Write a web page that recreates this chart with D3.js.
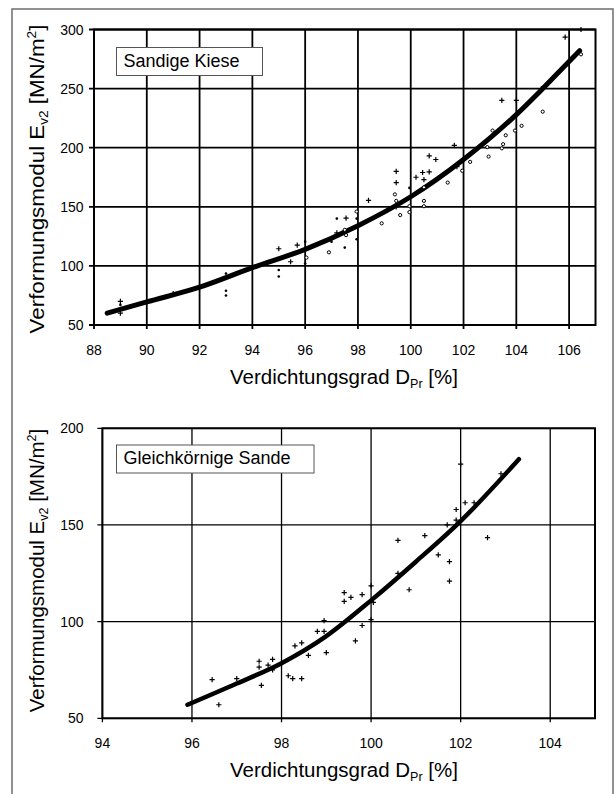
<!DOCTYPE html>
<html>
<head>
<meta charset="utf-8">
<script src="https://cdn.jsdelivr.net/npm/d3@7"></script>
<style>
  body { margin: 0; background: #fff; }
  text { font-family: Arial, "Liberation Sans", sans-serif; fill: #000; }
</style>
</head>
<body>
<svg id="chart" width="616" height="794"></svg>
<script>
// Sandige Kiese: E_v2 [MN/m2] over D_Pr [%], three kinds of markers
var kiesePlus = [[89.0,70],[89.0,60],[91.0,76.5],[95.0,114.5],[95.45,103.5],[95.7,117.5],[97.2,128],[97.55,140.5],
  [98.4,155.5],[99.45,180],[99.45,170.5],[99.45,150],[100.2,175],[100.45,179],[100.5,173],[100.7,193],[100.7,179.5],
  [100.95,190],[101.65,202],[101.75,184],[103.45,240],[104.0,240],[104.95,250],[105.85,293.5],[106.45,300]];
var kieseCircle = [[96.05,107],[96.9,111.5],[97.5,130.5],[97.55,126],[97.95,146],[98.9,136],[99.4,160.5],[99.45,155],
  [99.6,143],[99.95,150.5],[99.95,145.5],[100.5,166.5],[100.5,155],[100.5,150.5],[101.4,170.5],[101.95,180.5],
  [102.25,188],[102.9,200.5],[102.95,192.5],[103.1,214.5],[103.45,199.5],[103.5,203],[103.6,210.5],[103.95,214.5],
  [104.2,218.5],[105.0,230.5],[106.45,279]];
var kieseDot = [[89.0,67],[93.0,93.5],[93.0,79],[93.0,75],[95.0,96.5],[95.0,91],[96.0,120.5],[96.0,102],[97.0,120.5],
  [97.2,140],[97.5,115.5],[97.95,122.5],[97.95,140],[99.95,166]];
var kieseTrend = [[88.5,60],[90,69.5],[92,82],[94,98.5],[96,114],[98,134],[100,158.5],[102,190],[104,228],[105,250],[106,273],[106.4,282]];
var kieseXTicks = [88,90,92,94,96,98,100,102,104,106];
var kieseYTicks = [50,100,150,200,250,300];

// Gleichkörnige Sande
var sandePlus = [[96.45,70],[96.6,57],[97.0,70.5],[97.5,79.5],[97.5,76.5],[97.55,67],[97.7,77.5],[97.8,80.5],[97.8,75],
  [98.0,78.5],[98.15,72],[98.25,70.5],[98.45,70.5],[98.3,87.5],[98.45,89],[98.6,82.5],[98.8,95],[98.95,95],[98.95,100.5],
  [99.0,84],[99.4,115],[99.4,110.5],[99.55,112.5],[99.65,90],[99.8,114],[99.8,98],[100.0,118.5],[100.05,110],[100.0,101],
  [100.6,142],[100.6,125],[100.85,116.5],[101.2,144.5],[101.5,134.5],[101.75,131],[101.75,121],[101.7,150],[101.9,158],
  [101.9,152.5],[102.0,181.5],[102.1,161.5],[102.3,161.5],[102.6,143.5],[102.9,176.5]];
var sandeTrend = [[95.9,57],[97,68],[98,78.5],[99,92.5],[100,111],[101,131],[102,152],[103.3,184]];
var sandeXTicks = [94,96,98,100,102,104];
var sandeYTicks = [50,100,150,200];

var svg = d3.select("#chart");

// gray frame round the whole figure
svg.append("rect").attr("x", 12).attr("y", 9).attr("width", 601).attr("height", 810)
  .attr("fill", "none").attr("stroke", "#6e6e6e").attr("stroke-width", 1.5);

var plusPath = "M-2.6,0H2.6M0,-2.6V2.6";

function drawPanel(p) {
  var x = d3.scaleLinear().domain(p.xDomain).range(p.xRange);
  var y = d3.scaleLinear().domain(p.yDomain).range(p.yRange);
  var g = svg.append("g");

  // grid
  g.selectAll(".gx").data(p.xTicks).enter().append("line")
    .attr("x1", d => x(d)).attr("x2", d => x(d))
    .attr("y1", p.yRange[1]).attr("y2", p.yRange[0] + 4)
    .attr("stroke", "#000").attr("stroke-width", p.gridW);
  g.selectAll(".gy").data(p.yTicks).enter().append("line")
    .attr("x1", p.xRange[0] - 5).attr("x2", p.xRange[1])
    .attr("y1", d => y(d)).attr("y2", d => y(d))
    .attr("stroke", "#000").attr("stroke-width", p.gridW);

  // frame
  g.append("rect").attr("x", p.xRange[0]).attr("y", p.yRange[1])
    .attr("width", p.xRange[1] - p.xRange[0]).attr("height", p.yRange[0] - p.yRange[1])
    .attr("fill", "none").attr("stroke", "#000").attr("stroke-width", 2);

  // tick labels
  g.selectAll(".tx").data(p.xTicks).enter().append("text")
    .attr("x", d => x(d)).attr("y", p.yRange[0] + 30)
    .attr("text-anchor", "middle").attr("font-size", 14).text(d => d);
  g.selectAll(".ty").data(p.yTicks).enter().append("text")
    .attr("x", 83.5).attr("y", d => y(d) + 5)
    .attr("text-anchor", "end").attr("font-size", 14).text(d => d);

  // trend line
  g.append("path").datum(p.trend)
    .attr("d", d3.line().x(d => x(d[0])).y(d => y(d[1])).curve(d3.curveMonotoneX))
    .attr("fill", "none").attr("stroke", "#000").attr("stroke-width", p.trendW).attr("stroke-linecap", "round");

  // markers
  g.selectAll(".pp").data(p.plus).enter().append("path")
    .attr("d", plusPath).attr("transform", d => "translate(" + x(d[0]) + "," + y(d[1]) + ")")
    .attr("stroke", "#000").attr("stroke-width", 1.2).attr("fill", "none");
  g.selectAll(".pc").data(p.circle || []).enter().append("circle")
    .attr("cx", d => x(d[0])).attr("cy", d => y(d[1])).attr("r", 1.6)
    .attr("fill", "#fff").attr("stroke", "#000").attr("stroke-width", 1);
  g.selectAll(".pd").data(p.dot || []).enter().append("circle")
    .attr("cx", d => x(d[0])).attr("cy", d => y(d[1])).attr("r", 1.3)
    .attr("fill", "#000");

  // label box
  g.append("rect").attr("x", 116.5).attr("y", p.boxY).attr("width", p.boxW).attr("height", 28)
    .attr("fill", "#fff").attr("stroke", "#555").attr("stroke-width", 1);
  g.append("text").attr("x", 123.5).attr("y", p.boxY + 19).attr("font-size", 18).text(p.label);

  // axis titles
  var xt = g.append("text").attr("x", 344).attr("y", p.yRange[0] + 59)
    .attr("text-anchor", "middle").attr("font-size", 20.5);
  xt.append("tspan").text("Verdichtungsgrad D");
  xt.append("tspan").attr("font-size", 12.5).attr("dy", 4).text("Pr");
  xt.append("tspan").attr("dy", -4).text(" [%]");

  var yt = g.append("text")
    .attr("transform", "translate(43.5," + p.yTitleY + ") rotate(-90) scale(" + p.yTitleStretch + ",1)")
    .attr("text-anchor", "middle").attr("font-size", 20.5);
  yt.append("tspan").text("Verformungsmodul E");
  yt.append("tspan").attr("font-size", 12.5).attr("dy", 4).text("v2");
  yt.append("tspan").attr("dy", -4).text(" [MN/m");
  yt.append("tspan").attr("font-size", 12.5).attr("dy", -8).text("2");
  yt.append("tspan").attr("dy", 8).text("]");
}

drawPanel({
  xDomain: [88, 107], xRange: [94, 595.5], yDomain: [50, 300], yRange: [325, 29.5],
  xTicks: kieseXTicks, yTicks: kieseYTicks, gridW: 1.8, trendW: 5,
  plus: kiesePlus, circle: kieseCircle, dot: kieseDot, trend: kieseTrend,
  label: "Sandige Kiese", boxY: 47.5, boxW: 146, yTitleY: 179, yTitleStretch: 1.09
});

drawPanel({
  xDomain: [94, 105], xRange: [102.4, 595], yDomain: [50, 200], yRange: [718.3, 428.3],
  xTicks: sandeXTicks, yTicks: sandeYTicks, gridW: 1.3, trendW: 4.5,
  plus: sandePlus, trend: sandeTrend,
  label: "Gleichkörnige Sande", boxY: 445, boxW: 197.5, yTitleY: 570.5, yTitleStretch: 1
});
</script>
</body>
</html>
